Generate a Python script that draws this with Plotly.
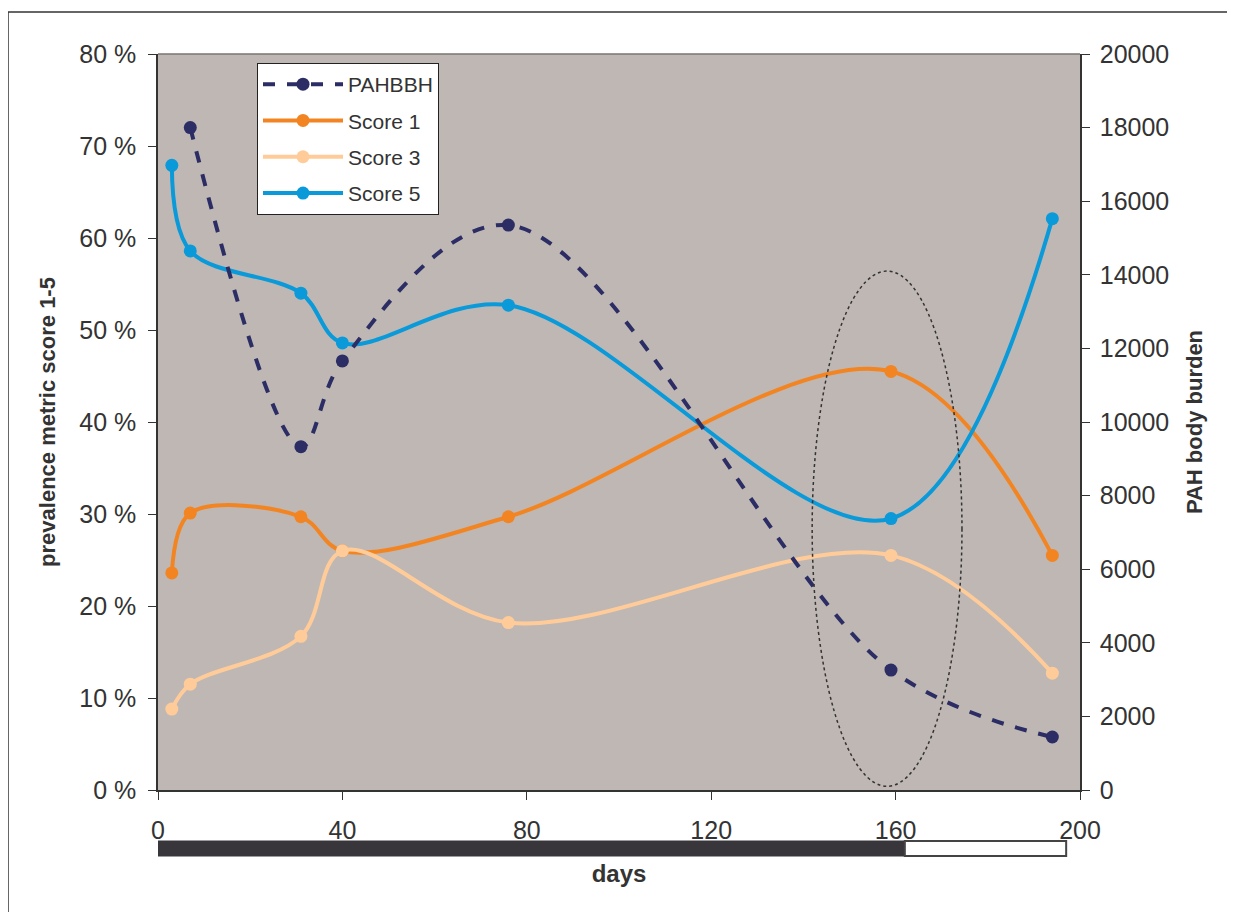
import plotly.graph_objects as go

days = [3, 7, 31, 40, 76, 159, 194]
pahbbh_days = [7, 31, 40, 76, 159, 194]
pahbbh = [18000, 9330, 11660, 15350, 3260, 1440]
score1 = [23.6, 30.1, 29.7, 26.0, 29.7, 45.5, 25.5]
score3 = [8.8, 11.5, 16.7, 26.0, 18.2, 25.5, 12.7]
score5 = [67.9, 58.6, 54.0, 48.6, 52.7, 29.5, 62.1]

C_PAH = "#2B2D64"
C_S1 = "#F28522"
C_S3 = "#FFCC99"
C_S5 = "#0A9AD9"
BG = "#BFB7B4"
TXT = "#333333"

# page body has an 8px margin; work in figure coordinates (target - 8)
OFF = 8
W, H = 1235 - OFF, 912 - OFF
L, T = 158 - OFF, 54 - OFF
R = W - (1080 - OFF)
B = H - (790 - OFF)
pw = W - L - R
ph = H - T - B


def px_x(xp):  # target-page x pixel -> paper x
    return (xp - 158) / pw


def px_y(yp):  # target-page y pixel -> paper y
    return (790 - yp) / ph


fig = go.Figure()
fig.add_trace(go.Scatter(x=pahbbh_days, y=pahbbh, name="PAHBBH", yaxis="y2",
                         mode="lines+markers", line=dict(color=C_PAH, width=4, dash="dash", shape="spline", smoothing=1),
                         marker=dict(size=13, color=C_PAH), legendgroup="a"))
fig.add_trace(go.Scatter(x=days, y=score1, name="Score 1", mode="lines+markers",
                         line=dict(color=C_S1, width=4, shape="spline", smoothing=1),
                         marker=dict(size=13, color=C_S1), legendgroup="b"))
fig.add_trace(go.Scatter(x=days, y=score3, name="Score 3", mode="lines+markers",
                         line=dict(color=C_S3, width=4, shape="spline", smoothing=1),
                         marker=dict(size=13, color=C_S3), legendgroup="c"))
fig.add_trace(go.Scatter(x=days, y=score5, name="Score 5", mode="lines+markers",
                         line=dict(color=C_S5, width=4, shape="spline", smoothing=1),
                         marker=dict(size=13, color=C_S5), legendgroup="d"))

font = "Liberation Sans, Arial, sans-serif"
axcommon = dict(showgrid=False, zeroline=False, ticks="outside", ticklen=8,
                tickcolor="#333", linecolor="#333", linewidth=1.5, showline=True,
                tickfont=dict(size=25, color=TXT, family=font))

fig.update_layout(
    width=W, height=H,
    margin=dict(l=L, r=R, t=T, b=B),
    paper_bgcolor="white", plot_bgcolor=BG,
    font=dict(family=font, color=TXT),
    xaxis=dict(range=[0, 200], dtick=40, tick0=0, ticklabelstandoff=9,
               title=dict(text="<b>days</b>", font=dict(size=24, color=TXT), standoff=22),
               **axcommon),
    yaxis=dict(range=[0, 80], dtick=10, ticksuffix=" %", ticklabelstandoff=7,
               title=dict(text="<b>prevalence metric score 1-5</b>", font=dict(size=22, color=TXT), standoff=18),
               **axcommon),
    yaxis2=dict(range=[0, 20000], dtick=2000, tickformat="d", overlaying="y", side="right",
                ticklabelstandoff=5,
                title=dict(text="<b>PAH body burden</b>", font=dict(size=22, color=TXT), standoff=18),
                **axcommon),
    legend=dict(x=px_x(257), y=px_y(63), xanchor="left", yanchor="top",
                bgcolor="white", bordercolor="#222", borderwidth=1,
                font=dict(size=21, color=TXT, family=font), tracegroupgap=6,
                itemwidth=80),
    showlegend=True,
    shapes=[
        # ellipse highlight
        dict(type="circle", xref="x", yref="y", x0=141.9, x1=174.4, y0=0.4, y1=56.4,
             line=dict(color="#333", width=1.5, dash="dot")),
        # plot top border
        dict(type="line", xref="paper", yref="paper", x0=0, x1=1, y0=1, y1=1,
             line=dict(color="#7a7472", width=1.5)),
        # timeline bars
        dict(type="rect", xref="x", yref="paper", x0=0, x1=162,
             y0=px_y(841), y1=px_y(856),
             fillcolor="#38363B", line=dict(color="#38363B", width=1)),
        dict(type="rect", xref="x", yref="paper", x0=162, x1=197,
             y0=px_y(841), y1=px_y(856),
             fillcolor="white", line=dict(color="#444", width=2)),
        # outer frame
        dict(type="line", xref="paper", yref="paper", x0=px_x(8), x1=px_x(1245),
             y0=px_y(12), y1=px_y(12), line=dict(color="#333", width=1.5)),
        dict(type="line", xref="paper", yref="paper", x0=px_x(8), x1=px_x(8),
             y0=px_y(12), y1=px_y(925), line=dict(color="#333", width=1.5)),
    ],
)

fig.write_html("out.html")
